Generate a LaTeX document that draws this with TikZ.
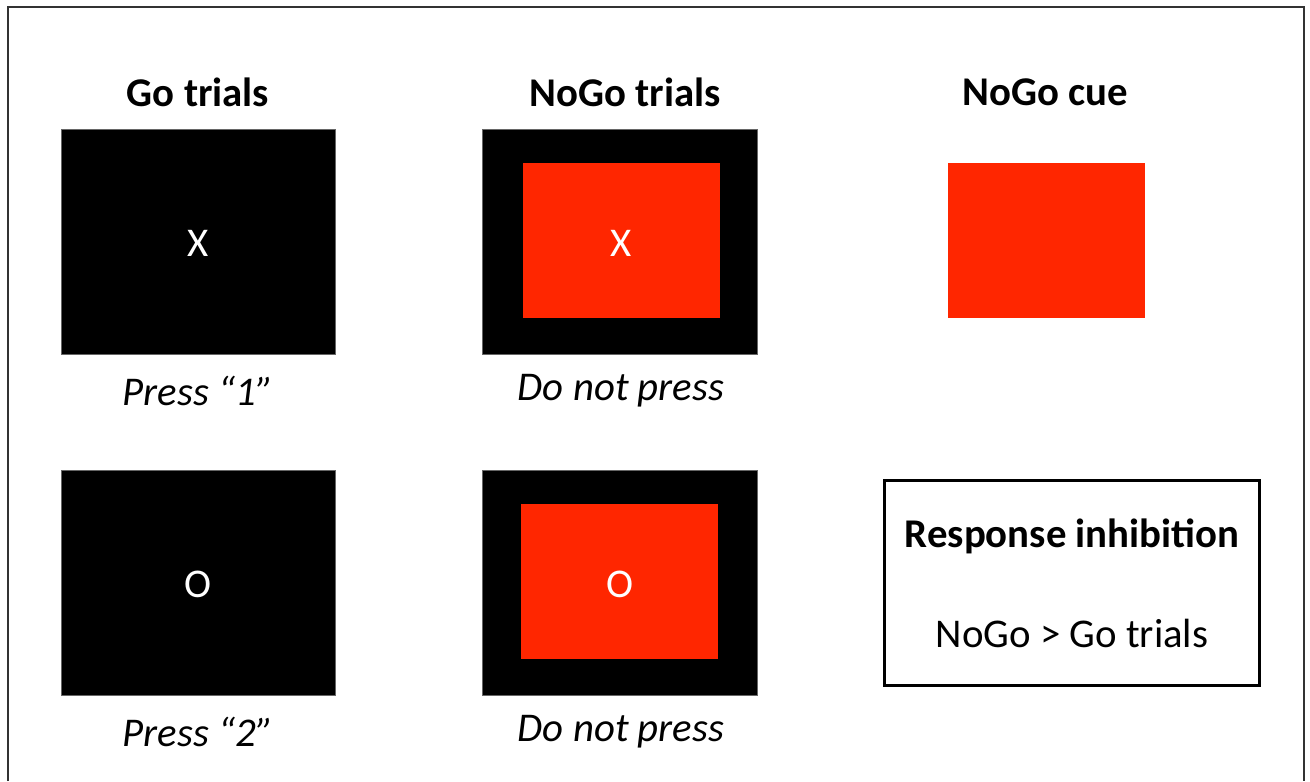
\documentclass[tikz,border=0pt]{standalone}
\usepackage{fontspec}
\setmainfont{Carlito}
\definecolor{cuered}{HTML}{FF2600}
\begin{document}
\begin{tikzpicture}[x=0.5pt,y=-0.5pt,
  stim/.style={fill=black,draw=black!60,line width=0.5pt},
  title/.style={font=\fontsize{20.4pt}{24pt}\selectfont\bfseries,inner sep=0pt},
  lab/.style={font=\fontsize{20.4pt}{24pt}\selectfont\itshape,inner sep=0pt},
  letter/.style={font=\fontsize{20.4pt}{24pt}\selectfont,text=white,inner sep=0pt},
  plain/.style={font=\fontsize{20.4pt}{24pt}\selectfont,inner sep=0pt}]
\useasboundingbox (0,0) rectangle (1310,781);
% outer frame (open at bottom)
\draw[line width=1pt,black!80] (8,781) -- (8,7) -- (1304,7) -- (1304,781);
% titles
\node[title] (t1) at (198,92) {Go trials};
\node[title] (t2) at (625,92) {NoGo trials};
\node[title] (t3) at (1045,92) {NoGo cue};
% Go boxes
\draw[stim] (61,129) rectangle (335,354);
\node[letter] (x1) at (198,243) {X};
\draw[stim] (61,470) rectangle (335,695);
\node[letter] (o1) at (198,584) {O};
% NoGo boxes
\draw[stim] (482,129) rectangle (757,354);
\fill[cuered] (523,163) rectangle (720,318);
\node[letter] (x2) at (621,243) {X};
\draw[stim] (482,470) rectangle (757,695);
\fill[cuered] (521,504) rectangle (718,659);
\node[letter] (o2) at (620,584) {O};
% NoGo cue
\fill[cuered] (948,163) rectangle (1145,318);
% labels
\node[lab] (l1) at (198,391) {Press “1”};
\node[lab] (l2) at (621,391) {Do not press};
\node[lab] (l3) at (198,732) {Press “2”};
\node[lab] (l4) at (621,732) {Do not press};
% response inhibition box
\draw[line width=1.5pt] (884,480) rectangle (1259,685);
\node[title] (r1) at (1072,536) {Response inhibition};
\node[plain] (r2) at (1072,633) {NoGo > Go trials};
\end{tikzpicture}
\end{document}
